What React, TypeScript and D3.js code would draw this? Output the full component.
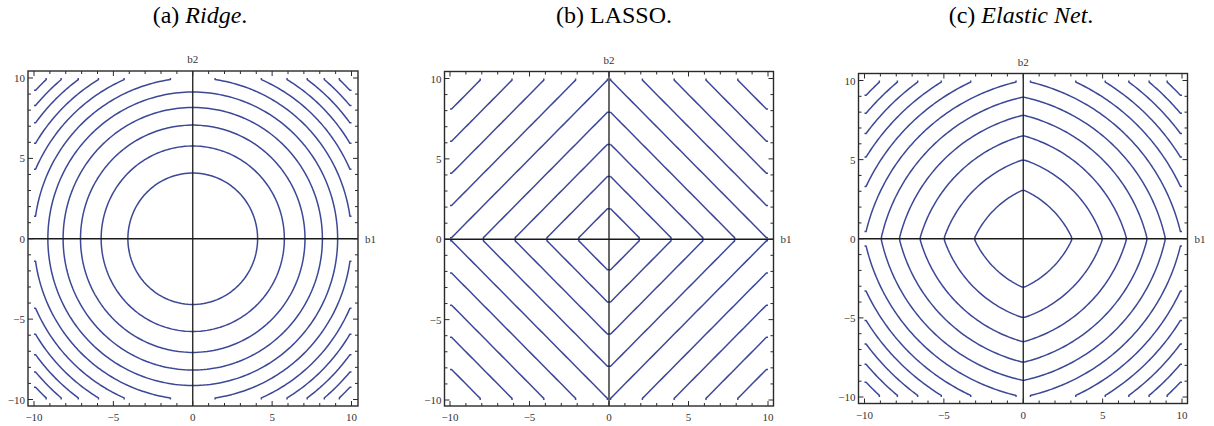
import React from "react";
import * as d3 from "d3";

type Pt = [number, number];

// Contour levels drawn for each penalty surface
const ridgeLevels = [16.7, 33.3, 50, 66.7, 83.3, 100, 116.7, 133.3, 150, 166.7, 183.3];
const lassoLevels = [2, 4, 6, 8, 10, 12, 14, 16, 18];
const elasticLevels = [25, 50, 75, 100, 125, 150, 175, 200, 225, 250, 275];

// Frame ticks
const majorTicks = [-10, -5, 0, 5, 10];
const majorTickLabels = ["\u221210", "\u22125", "0", "5", "10"];
const minorTicks = [-9, -8, -7, -6, -4, -3, -2, -1, 1, 2, 3, 4, 6, 7, 8, 9];

const titleTags = ["(a)", "(b)", "(c)"];
const titleNames = ["Ridge", "LASSO", "Elastic Net"];
const titleItalic = [true, false, true];

// Penalty functions of (b1, b2)
const ridge = (b1: number, b2: number) => b1 * b1 + b2 * b2;
const lasso = (b1: number, b2: number) => Math.abs(b1) + Math.abs(b2);
const elastic = (b1: number, b2: number) =>
  b1 * b1 + b2 * b2 + 5 * (Math.abs(b1) + Math.abs(b2));

const LO = -10;
const HI = 10;
const N = 100; // grid cells per axis

// Sample the surface at cell centres over [LO, HI]^2 and turn d3 contour rings
// into open polylines, dropping the pieces that run along the grid border.
function contourLines(f: (a: number, b: number) => number, levels: number[]): Pt[][] {
  const step = (HI - LO) / N;
  const values = new Array(N * N);
  for (let j = 0; j < N; j++)
    for (let i = 0; i < N; i++)
      values[j * N + i] = f(LO + ((i + 0.5) * (HI - LO)) / N, LO + ((j + 0.5) * (HI - LO)) / N);

  const gen = d3.contours().size([N, N]).thresholds(levels.map((v) => v + 1e-9));
  const onX = (p: Pt) => p[0] === 0 || p[0] === N;
  const onY = (p: Pt) => p[1] === 0 || p[1] === N;
  const borderEdge = (a: Pt, b: Pt) =>
    (a[0] === 0 && b[0] === 0) ||
    (a[0] === N && b[0] === N) ||
    (a[1] === 0 && b[1] === 0) ||
    (a[1] === N && b[1] === N);

  // move a border end point onto the border next to its inner neighbour
  const snap = (p: Pt, q: Pt): Pt => {
    if (onX(p) && !onY(p)) return [p[0], q[1]];
    if (onY(p) && !onX(p)) return [q[0], p[1]];
    return p;
  };

  const out: Pt[][] = [];
  for (const mp of gen(values)) {
    for (const poly of mp.coordinates as unknown as Pt[][][]) {
      for (const ring of poly) {
        const pieces: Pt[][] = [];
        let cur: Pt[] | null = null;
        let cut = false;
        for (let k = 0; k < ring.length - 1; k++) {
          const a = ring[k];
          const b = ring[k + 1];
          if (borderEdge(a, b)) {
            cut = true;
            if (cur) {
              pieces.push(cur);
              cur = null;
            }
            continue;
          }
          if (!cur) cur = [a];
          cur.push(b);
        }
        if (cur) pieces.push(cur);
        if (
          cut &&
          pieces.length > 1 &&
          !borderEdge(ring[0], ring[1]) &&
          !borderEdge(ring[ring.length - 2], ring[ring.length - 1])
        ) {
          const first = pieces.shift()!;
          const last = pieces.pop()!;
          pieces.push(last.concat(first.slice(1)));
        }
        for (const p0 of pieces) {
          if (p0.length < 2) continue;
          const p = p0.slice();
          if (cut) {
            p[0] = snap(p[0], p[1]);
            p[p.length - 1] = snap(p[p.length - 1], p[p.length - 2]);
          }
          out.push(p.map(([c, r]) => [LO + c * step, LO + r * step] as Pt));
        }
      }
    }
  }
  return out;
}

interface PanelSpec {
  f: (a: number, b: number) => number;
  levels: number[];
  titleX: number;
  xr: [number, number];
  yr: [number, number];
  frame: [number, number, number, number];
}

const panels: PanelSpec[] = [
  { f: ridge, levels: ridgeLevels, titleX: 200, xr: [34, 351.5], yr: [399.5, 78], frame: [28, 71, 358, 406] },
  { f: lasso, levels: lassoLevels, titleX: 614, xr: [450, 768], yr: [400, 78.5], frame: [444.5, 71.5, 773.5, 406] },
  { f: elastic, levels: elasticLevels, titleX: 1021, xr: [864.5, 1182], yr: [397, 80.5], frame: [858.5, 73.5, 1187.5, 403.5] },
];

const LINE = "#3c4896";
const INK = "#2a2a2a";
const SERIF = "'Liberation Serif', 'Times New Roman', Times, 'DejaVu Serif', serif";

function Panel({ spec, index }: { spec: PanelSpec; index: number }) {
  const xs = d3.scaleLinear().domain([LO, HI]).range(spec.xr);
  const ys = d3.scaleLinear().domain([LO, HI]).range(spec.yr);
  const [fx0, fy0, fx1, fy1] = spec.frame;
  const lines = React.useMemo(() => contourLines(spec.f, spec.levels), [spec]);
  const path = d3
    .line<Pt>()
    .x((p) => xs(p[0]))
    .y((p) => ys(p[1]));

  const tick = (v: number, len: number, key: string) => (
    <g key={key} stroke={INK} strokeWidth={1}>
      <line x1={xs(v)} x2={xs(v)} y1={fy1} y2={fy1 - len} />
      <line x1={xs(v)} x2={xs(v)} y1={fy0} y2={fy0 + len} />
      <line x1={fx0} x2={fx0 + len} y1={ys(v)} y2={ys(v)} />
      <line x1={fx1} x2={fx1 - len} y1={ys(v)} y2={ys(v)} />
    </g>
  );

  return (
    <g>
      <text x={spec.titleX} y={23} textAnchor="middle" style={{ fontFamily: SERIF, fontSize: 24 }} fill="#000">
        <tspan>{titleTags[index] + " "}</tspan>
        <tspan style={{ fontStyle: titleItalic[index] ? "italic" : "normal" }}>{titleNames[index]}</tspan>
        <tspan>.</tspan>
      </text>

      <g fill="none" stroke={LINE} strokeWidth={1.5} strokeLinejoin="round">
        {lines.map((l, k) => (
          <path key={k} d={path(l) || ""} />
        ))}
      </g>

      <g stroke="#1a1a1a" strokeWidth={1.3}>
        <line x1={fx0} x2={fx1} y1={ys(0)} y2={ys(0)} />
        <line x1={xs(0)} x2={xs(0)} y1={fy0} y2={fy1} />
      </g>

      {minorTicks.map((v) => tick(v, 3, "m" + v))}
      {majorTicks.map((v) => tick(v, 5, "M" + v))}

      <rect x={fx0} y={fy0} width={fx1 - fx0} height={fy1 - fy0} fill="none" stroke={INK} strokeWidth={1.4} />

      <g style={{ fontFamily: SERIF, fontSize: 11 }} fill="#333">
        {majorTicks.map((v, k) => (
          <text key={"bx" + v} x={xs(v)} y={fy1 + 15} textAnchor="middle">
            {majorTickLabels[k]}
          </text>
        ))}
        {majorTicks.map((v, k) => (
          <text key={"ly" + v} x={fx0 - 3} y={ys(v) + 4} textAnchor="end">
            {majorTickLabels[k]}
          </text>
        ))}
        <text x={xs(0)} y={fy0 - 8} textAnchor="middle">b2</text>
        <text x={fx1 + 7} y={ys(0) + 4}>b1</text>
      </g>
    </g>
  );
}

export default function App() {
  return (
    <svg
      width={1214}
      height={426}
      viewBox="0 0 1214 426"
      style={{ position: "absolute", left: 0, top: 0, background: "#fff" }}
    >
      {panels.map((p, i) => (
        <Panel key={i} spec={p} index={i} />
      ))}
    </svg>
  );
}
